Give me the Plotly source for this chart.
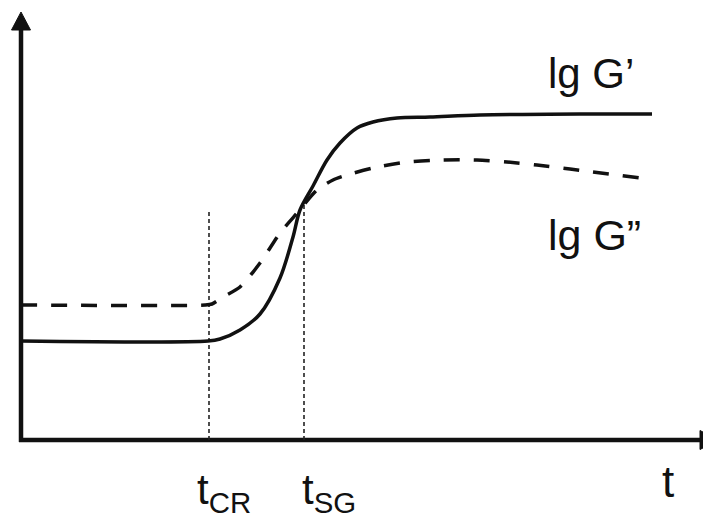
import plotly.graph_objects as go

# Schematic units: origin at the axes corner
t_storage = [0, 187, 199, 219, 239, 259, 272, 279, 292, 306, 319, 336, 352, 376, 409, 459, 559, 631]
lg_storage = [99, 99, 101, 110, 126, 162, 203, 230, 254, 280, 297, 312, 318, 322, 323, 325, 326, 326]

t_loss = [0, 184, 191, 202, 219, 239, 259, 277, 296, 312, 326, 352, 386, 422, 456, 486, 516, 549, 619]
lg_loss = [135, 135, 136, 143, 153, 177, 207, 228, 250, 260, 265, 272, 278, 280, 280, 278, 275, 271, 262]

t_cr, t_sg = 188, 283
lg_cr_top, lg_sg_top = 228, 235

fig = go.Figure()

# axes lines
fig.add_trace(go.Scatter(x=[0, 0], y=[-2, 415], mode="lines", line=dict(color="#111", width=4.5), hoverinfo="skip"))
fig.add_trace(go.Scatter(x=[-2, 682], y=[0, 0], mode="lines", line=dict(color="#111", width=4.5), hoverinfo="skip"))
# arrowheads
fig.add_trace(go.Scatter(x=[-9.5, 9.5, 0, -9.5], y=[410, 410, 428, 410], mode="lines", fill="toself",
                         fillcolor="#111", line=dict(color="#111", width=1), hoverinfo="skip"))
fig.add_trace(go.Scatter(x=[679, 679, 697, 679], y=[-9.5, 9.5, 0, -9.5], mode="lines", fill="toself",
                         fillcolor="#111", line=dict(color="#111", width=1), hoverinfo="skip"))

# vertical guide lines
fig.add_trace(go.Scatter(x=[t_cr, t_cr], y=[0, lg_cr_top], mode="lines",
                         line=dict(color="#222", width=1.6, dash="4px,3px"), hoverinfo="skip"))
fig.add_trace(go.Scatter(x=[t_sg, t_sg], y=[0, lg_sg_top], mode="lines",
                         line=dict(color="#222", width=1.6, dash="4px,3px"), hoverinfo="skip"))

# curves
fig.add_trace(go.Scatter(x=t_storage, y=lg_storage, mode="lines",
                         line=dict(color="#111", width=3.5, shape="spline", smoothing=0.9), hoverinfo="skip"))
fig.add_trace(go.Scatter(x=t_loss, y=lg_loss, mode="lines",
                         line=dict(color="#111", width=3.5, dash="16px,14px", shape="spline", smoothing=0.7), hoverinfo="skip"))

font = dict(family="Liberation Sans, Arial, sans-serif", color="#111", size=42)
ann = [
    dict(x=525, y=367, text="lg G’", xanchor="left", yanchor="middle"),
    dict(x=525, y=205, text="lg G”", xanchor="left", yanchor="middle", font=dict(font, size=43)),
    dict(x=647, y=-41, text="t", xanchor="center", yanchor="middle", font=dict(font, size=44)),
    dict(x=174, y=-52, text="t<sub>CR</sub>", xanchor="left", yanchor="middle"),
    dict(x=279, y=-52, text="t<sub>SG</sub>", xanchor="left", yanchor="middle"),
]
for a in ann:
    a.setdefault("font", font)
    fig.add_annotation(showarrow=False, xref="x", yref="y", **a)

# the page body adds an 8px offset, so the figure is 8px smaller and starts 8px in
fig.update_layout(
    width=703, height=511, margin=dict(l=0, r=0, t=0, b=0),
    paper_bgcolor="white", plot_bgcolor="white", showlegend=False,
    xaxis=dict(range=[-13, 690], visible=False, fixedrange=True),
    yaxis=dict(range=[-79, 432], visible=False, fixedrange=True),
)
fig.write_html("out.html")
